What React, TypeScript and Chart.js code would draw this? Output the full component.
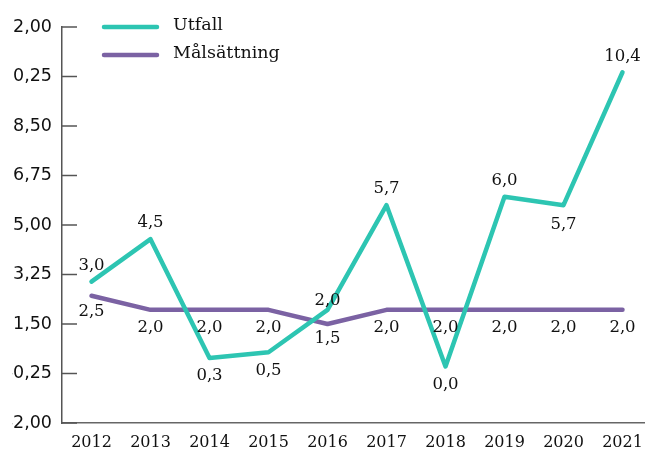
import React, { useEffect, useRef } from 'react';
import { Chart, registerables } from 'chart.js';

Chart.register(...registerables);

const YEARS = ['2012', '2013', '2014', '2015', '2016', '2017', '2018', '2019', '2020', '2021'];
const UTFALL = [3.0, 4.5, 0.3, 0.5, 2.0, 5.7, 0.0, 6.0, 5.7, 10.4];
const MALSATTNING = [2.5, 2.0, 2.0, 2.0, 1.5, 2.0, 2.0, 2.0, 2.0, 2.0];
const Y_MIN = -2;
const Y_MAX = 12;
const Y_STEP = 1.75;

// label placement relative to each point (negative = above)
const UTFALL_LABEL_OFFSETS = [-16, -16, 18, 18, -9, -16, 18, -16, 20, -16];
const MAL_LABEL_OFFSETS = [16, 18, 18, 18, 15, 18, 18, 18, 18, 18];

const TEAL = '#2dc5b2';
const PURPLE = '#7b62a3';
const SERIF = '"DejaVu Serif", serif';

const fmt1 = (v: number) => v.toFixed(1).replace('.', ',');
const fmt2 = (v: number) => v.toFixed(2).replace('.', ',');

const innerTicks = {
  id: 'innerTicks',
  beforeDatasetsDraw(chart: any) {
    const { ctx, chartArea } = chart;
    const y = chart.scales.y;
    ctx.save();
    ctx.strokeStyle = '#555';
    ctx.lineWidth = 1.5;
    y.ticks.forEach((t: any) => {
      const py = y.getPixelForValue(t.value);
      ctx.beginPath();
      ctx.moveTo(chartArea.left, py);
      ctx.lineTo(chartArea.left + 15, py);
      ctx.stroke();
    });
    ctx.restore();
  },
};

const valueLabels = {
  id: 'valueLabels',
  afterDatasetsDraw(chart: any) {
    const { ctx } = chart;
    ctx.save();
    ctx.font = `16.5px ${SERIF}`;
    ctx.fillStyle = '#111';
    ctx.textAlign = 'center';
    ctx.textBaseline = 'middle';
    chart.data.datasets.forEach((ds: any, i: number) => {
      const meta = chart.getDatasetMeta(i);
      meta.data.forEach((pt: any, j: number) => {
        ctx.fillText(fmt1(ds.data[j]), pt.x, pt.y + ds.labelOffsets[j]);
      });
    });
    ctx.restore();
  },
};

const customLegend = {
  id: 'customLegend',
  afterDraw(chart: any) {
    const { ctx, chartArea } = chart;
    ctx.save();
    chart.data.datasets.forEach((ds: any, i: number) => {
      const y = chartArea.top + i * 28;
      ctx.strokeStyle = ds.borderColor;
      ctx.lineWidth = 4.5;
      ctx.lineCap = 'round';
      ctx.beginPath();
      ctx.moveTo(chartArea.left + 42, y);
      ctx.lineTo(chartArea.left + 95, y);
      ctx.stroke();
      ctx.font = `17.5px ${SERIF}`;
      ctx.fillStyle = '#111';
      ctx.textAlign = 'left';
      ctx.textBaseline = 'middle';
      ctx.fillText(ds.label, chartArea.left + 111, y - 2);
    });
    ctx.restore();
  },
};

export default function App() {
  const ref = useRef<HTMLCanvasElement>(null);

  useEffect(() => {
    if (!ref.current) return;
    const chart = new Chart(ref.current, {
      type: 'line',
      data: {
        labels: YEARS,
        datasets: [
          {
            label: 'Utfall',
            data: UTFALL,
            borderColor: TEAL,
            backgroundColor: TEAL,
            borderWidth: 4.5,
            pointRadius: 0,
            borderCapStyle: 'round',
            borderJoinStyle: 'round',
            tension: 0,
            labelOffsets: UTFALL_LABEL_OFFSETS,
          } as any,
          {
            label: 'Målsättning',
            data: MALSATTNING,
            borderColor: PURPLE,
            backgroundColor: PURPLE,
            borderWidth: 4.5,
            pointRadius: 0,
            borderCapStyle: 'round',
            borderJoinStyle: 'round',
            tension: 0,
            labelOffsets: MAL_LABEL_OFFSETS,
          } as any,
        ],
      },
      options: {
        animation: false,
        responsive: false,
        devicePixelRatio: 1,
        layout: { padding: { top: 27, right: 8, bottom: 0, left: 0 } },
        plugins: {
          legend: { display: false },
          tooltip: { enabled: false },
        },
        scales: {
          x: {
            type: 'category',
            offset: true,
            grid: { display: true, drawOnChartArea: false, drawTicks: false },
            border: { display: true, color: '#666', width: 1.5 },
            ticks: {
              font: { family: SERIF, size: 16 },
              color: '#111',
              padding: 10,
              maxRotation: 0,
              autoSkip: false,
            },
            afterFit: (s: any) => {
              s.height = 29;
            },
          },
          y: {
            min: Y_MIN,
            max: Y_MAX,
            grid: { display: true, drawOnChartArea: false, drawTicks: false },
            border: { display: true, color: '#555', width: 1.5 },
            ticks: {
              stepSize: Y_STEP,
              font: { family: '"DejaVu Sans", sans-serif', size: 17.5 },
              color: '#111',
              padding: 10,
              callback: (v: any) => fmt2(Number(v)),
            },
            afterFit: (s: any) => {
              s.width = 72;
            },
          },
        },
      },
      plugins: [innerTicks, valueLabels, customLegend],
    } as any);
    return () => chart.destroy();
  }, []);

  return (
    <div
      style={{
        position: 'fixed',
        left: 12,
        top: 0,
        width: 633,
        height: 452,
        overflow: 'hidden',
        background: '#fff',
      }}
    >
      <canvas
        ref={ref}
        width={670}
        height={452}
        style={{ position: 'absolute', left: -22, top: 0, width: 670, height: 452 }}
      />
    </div>
  );
}
